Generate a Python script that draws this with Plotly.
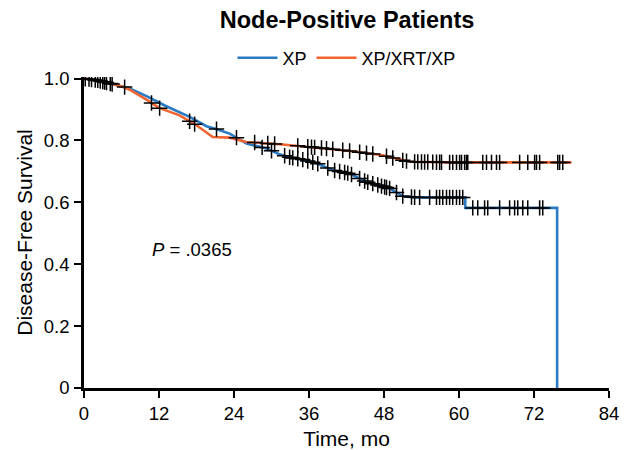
import numpy as np
import plotly.graph_objects as go

# ---- data ----
xp_time = [0, 2, 4, 6, 7.3, 10, 13, 16.9, 19.6, 21, 23.3, 26, 29.2, 31.3, 33, 35,
           37.2, 39.8, 42.5, 45.2, 48.9, 51, 53, 61.0, 61.0, 75.7, 75.7]
xp_surv = [1.0, 0.995, 0.985, 0.975, 0.968, 0.943, 0.912, 0.876, 0.846, 0.838, 0.822,
           0.790, 0.774, 0.755, 0.745, 0.738, 0.726, 0.704, 0.693, 0.666, 0.645, 0.620,
           0.616, 0.616, 0.582, 0.582, 0.0]

xrt_time = [0, 2, 4, 6, 7.3, 10, 12, 15.3, 18, 20.6, 23.3, 26, 31.8, 37.2, 42.5,
            47.8, 50, 52.1, 58.5, 78]
xrt_surv = [1.0, 0.995, 0.985, 0.975, 0.964, 0.932, 0.905, 0.881, 0.849, 0.811, 0.809,
            0.795, 0.787, 0.777, 0.766, 0.752, 0.740, 0.731, 0.729, 0.729]

xp_censor = [0.8, 1.8, 2.6, 3.3, 4.2, 6.5, 21.2, 24.4, 28.5, 30.0,
             32.1, 32.9, 33.4, 34.2, 35.0, 35.8, 36.6, 37.4, 39.0, 40.1, 40.9, 41.7,
             42.2, 42.8, 44.1, 44.9, 45.4, 46.2, 47.0, 47.6, 48.1, 48.4, 48.9, 50.0,
             51.0, 52.4, 52.9, 53.7, 55.3, 56.4, 56.9, 57.4, 58.0, 58.5, 59.0, 59.6,
             60.1, 60.6, 62.2, 63.0, 64.1, 64.6, 66.5, 68.1, 68.9, 69.4, 70.2, 71.0,
             72.9, 73.4]
xrt_censor = [0.2, 1.2, 2.2, 3.0, 3.6, 4.5, 10.8, 12.1, 16.9, 17.7, 27.3, 29.4, 30.5,
              34.2, 35.8, 36.4, 36.9, 38.0, 38.8, 39.8, 41.4, 42.5, 44.1, 45.2, 46.2,
              48.4, 49.4, 51.0, 51.6, 52.9, 53.4, 54.0, 54.5, 55.0, 55.8, 56.4, 56.9,
              57.2, 58.5, 59.0, 59.6, 60.1, 60.4, 60.9, 61.2, 61.4, 63.8, 64.4, 65.2,
              66.0, 66.5, 69.7, 71.0, 72.1, 72.4, 72.9, 75.8, 76.1, 76.6]

x_ticks = [0, 12, 24, 36, 48, 60, 72, 84]
y_ticks = [0, 0.2, 0.4, 0.6, 0.8, 1.0]
y_ticklabels = ["0", "0.2", "0.4", "0.6", "0.8", "1.0"]

BLUE = "#2a7ac4"
ORANGE = "#f26430"
FONT = "Liberation Sans, Arial, sans-serif"


def surv_at(times, survs, t):
    # value of the curve at time t (last value for repeated times)
    times = np.asarray(times, float)
    survs = np.asarray(survs, float)
    out = []
    for v in t:
        idx = np.where(times <= v)[0][-1]
        if idx + 1 < len(times) and times[idx + 1] > times[idx]:
            t0, t1 = times[idx], times[idx + 1]
            s0, s1 = survs[idx], survs[idx + 1]
            out.append(s0 + (s1 - s0) * (v - t0) / (t1 - t0))
        else:
            out.append(survs[idx])
    return out


fig = go.Figure()
fig.add_trace(go.Scatter(x=xp_time, y=xp_surv, mode="lines", name="XP",
                         line=dict(color=BLUE, width=2.6)))
fig.add_trace(go.Scatter(x=xrt_time, y=xrt_surv, mode="lines", name="XP/XRT/XP",
                         line=dict(color=ORANGE, width=2.6)))
fig.add_trace(go.Scatter(x=xp_censor, y=surv_at(xp_time, xp_surv, xp_censor),
                         mode="markers", showlegend=False, hoverinfo="skip",
                         marker=dict(symbol="cross-thin", size=11,
                                     line=dict(color="black", width=1.5))))
fig.add_trace(go.Scatter(x=xrt_censor, y=surv_at(xrt_time, xrt_surv, xrt_censor),
                         mode="markers", showlegend=False, hoverinfo="skip",
                         marker=dict(symbol="cross-thin", size=11,
                                     line=dict(color="black", width=1.5))))

fig.add_annotation(x=17.2, y=0.447, xref="x", yref="y", showarrow=False,
                   text="<i>P</i> = .0365", font=dict(family=FONT, size=18.5, color="black"))

fig.update_layout(
    width=631, height=450,
    margin=dict(l=84, r=22, t=77, b=62),
    paper_bgcolor="white", plot_bgcolor="white",
    font=dict(family=FONT, size=18, color="black"),
    title=dict(text="<b>Node-Positive Patients</b>", x=0.55, xanchor="center",
               y=0.955, yanchor="middle", yref="container",
               font=dict(family=FONT, size=23.5, color="black")),
    legend=dict(orientation="h", x=0.5, xanchor="center", y=1.061, yanchor="middle",
                font=dict(family=FONT, size=18, color="black"),
                bgcolor="rgba(0,0,0,0)", itemwidth=40, tracegroupgap=0),
    showlegend=True,
)
fig.update_xaxes(range=[0, 84], tickvals=x_ticks, ticktext=[str(v) for v in x_ticks],
                 automargin=False,
                 showgrid=False, zeroline=False, showline=True, linecolor="black",
                 linewidth=2.6, ticks="outside", ticklen=7, tickwidth=2.2,
                 tickcolor="black", tickfont=dict(family=FONT, size=18.5),
                 title=dict(text="Time, mo", standoff=9, font=dict(family=FONT, size=21)))
fig.update_yaxes(range=[0, 1.005], tickvals=y_ticks, ticktext=y_ticklabels,
                 automargin=False,
                 showgrid=False, zeroline=False, showline=True, linecolor="black",
                 linewidth=2.6, ticks="outside", ticklen=7, tickwidth=2.2,
                 tickcolor="black", tickfont=dict(family=FONT, size=18.5),
                 ticklabelstandoff=1,
                 title=dict(text="Disease-Free Survival", standoff=6,
                            font=dict(family=FONT, size=21)))

# remove the browser's default page margin so the figure sits at the window origin
fig.write_html("out.html", config={"displayModeBar": False},
               post_script="document.body.style.margin='0';")
